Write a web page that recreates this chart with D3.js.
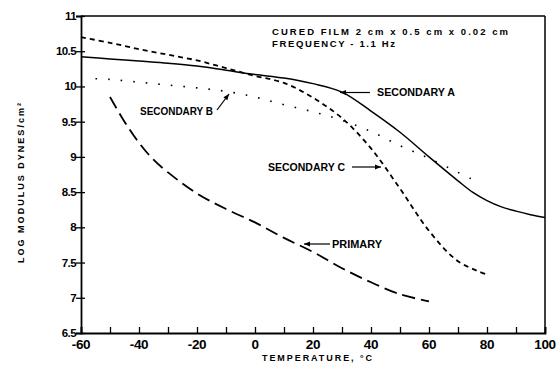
<!DOCTYPE html>
<html><head><meta charset="utf-8">
<script src="https://cdn.jsdelivr.net/npm/d3@7"></script>
<style>body{margin:0;background:#fff}svg{display:block}text{font-family:"Liberation Sans",Arial,sans-serif;fill:#000}</style>
</head><body><svg id="c" width="560" height="372"></svg>
<script>
const xTicks = [-60,-40,-20,0,20,40,60,80,100];
const xMinor = [-50,-30,-10,10,30,50,70,90];
const yTicks = [6.5,7,7.5,8,8.5,9,9.5,10,10.5,11];
const yTickLabels = ["6.5","7","7.5","8","8.5","9","9.5","10","10.5","11"];

const secAT = [-60,-50,-40,-30,-20,-10,0,10,20,30,40,50,60,70,75,80,85,90,95,100];
const secAV = [10.42,10.39,10.36,10.33,10.29,10.23,10.17,10.12,10.04,9.92,9.65,9.35,9.0,8.66,8.50,8.38,8.29,8.23,8.18,8.14];

const secCT = [-60,-50,-40,-30,-20,-10,0,10,20,30,40,50,60,70,80];
const secCV = [10.70,10.62,10.53,10.45,10.37,10.26,10.15,10.05,9.84,9.55,9.12,8.55,7.95,7.52,7.33];

const secBT = [-55,-50,-40,-30,-20,-10,0,10,20,30,40,50,60,70,75];
const secBV = [10.11,10.10,10.06,10.02,9.98,9.93,9.85,9.74,9.64,9.52,9.36,9.16,8.98,8.78,8.68];

const primT = [-50,-45,-40,-35,-30,-20,-10,0,10,20,30,40,50,60];
const primV = [9.85,9.50,9.20,8.96,8.78,8.48,8.26,8.07,7.85,7.65,7.42,7.22,7.05,6.95];

const svg = d3.select("#c");
const x = d3.scaleLinear().domain([-60,100]).range([81,545]);
const y = d3.scaleLinear().domain([6.5,11]).range([333,16]);

const line = d3.line().x(d=>x(d[0])).y(d=>y(d[1])).curve(d3.curveCatmullRom.alpha(0.5));
function draw(T,V,dash,w){
  svg.append("path").datum(T.map((t,i)=>[t,V[i]])).attr("d",line)
    .attr("fill","none").attr("stroke","#000").attr("stroke-width",w)
    .attr("stroke-dasharray",dash).attr("stroke-linecap","butt");
}
draw(secAT,secAV,null,1.5);
draw(secCT,secCV,"5,4",1.8);
draw(secBT,secBV,"1.6,11",1.6);
draw(primT,primV,"13,6",1.8);

// axes
const xAxis = d3.axisBottom(x).tickValues(xTicks.concat(xMinor)).tickSize(-6).tickFormat("");
const gx = svg.append("g").attr("transform",`translate(0,${y(6.5)})`).call(xAxis);
gx.select(".domain").attr("stroke-width",1.8);
gx.selectAll(".tick line").attr("stroke-width",1.3);
svg.append("g").selectAll("text").data(xTicks).join("text")
  .attr("x",d=>x(d)).attr("y",349).attr("text-anchor","middle")
  .attr("font-size",13.5).attr("font-weight","bold").attr("letter-spacing","-0.3")
  .text(d=>d);

const yAxis = d3.axisLeft(y).tickValues(yTicks).tickSize(5).tickFormat("");
const gy = svg.append("g").attr("transform",`translate(${x(-60)},0)`).call(yAxis);
gy.select(".domain").attr("stroke-width",1.8);
gy.selectAll(".tick line").attr("stroke-width",1.3).attr("x2",-5).attr("x1",4);
svg.append("g").selectAll("text").data(yTicks).join("text")
  .attr("x",76).attr("y",d=>y(d)+4).attr("text-anchor","end")
  .attr("font-size",11.5).attr("font-weight","bold").attr("letter-spacing","-0.6")
  .text((d,i)=>yTickLabels[i]);

// top and right frame
svg.append("line").attr("x1",x(-60)).attr("x2",x(100)).attr("y1",y(11)).attr("y2",y(11)).attr("stroke","#000").attr("stroke-width",1.5);
svg.append("line").attr("x1",x(100)).attr("x2",x(100)).attr("y1",y(11)).attr("y2",y(6.5)).attr("stroke","#000").attr("stroke-width",1.5);

// axis titles
svg.append("text").attr("x",262).attr("y",361)
  .attr("font-size",9).attr("font-weight","bold").attr("textLength",110).attr("lengthAdjust","spacing")
  .text("TEMPERATURE, °C");
svg.append("text").attr("transform","translate(24,263) rotate(-90)")
  .attr("font-size",9).attr("font-weight","bold").attr("textLength",160).attr("lengthAdjust","spacing")
  .text("LOG MODULUS  DYNES/cm²");

// annotation texts
const ann = svg.append("g").attr("font-size",9.5).attr("font-weight","bold");
ann.append("text").attr("x",272).attr("y",35).attr("textLength",236).attr("lengthAdjust","spacing")
  .text("CURED FILM 2 cm x 0.5 cm x 0.02 cm");
ann.append("text").attr("x",272).attr("y",47).attr("textLength",123).attr("lengthAdjust","spacing")
  .text("FREQUENCY - 1.1 Hz");
const lab = svg.append("g").attr("font-size",10).attr("font-weight","bold");
lab.append("text").attr("x",377).attr("y",96).attr("textLength",78).attr("lengthAdjust","spacingAndGlyphs").text("SECONDARY A");
lab.append("text").attr("x",140).attr("y",115).attr("textLength",73).attr("lengthAdjust","spacingAndGlyphs").text("SECONDARY B");
lab.append("text").attr("x",268).attr("y",171).attr("textLength",77).attr("lengthAdjust","spacingAndGlyphs").text("SECONDARY C");
lab.append("text").attr("x",332).attr("y",248).attr("textLength",50).attr("lengthAdjust","spacingAndGlyphs").text("PRIMARY");

// arrows
function arrow(x1,y1,x2,y2){
  svg.append("line").attr("x1",x1).attr("y1",y1).attr("x2",x2).attr("y2",y2).attr("stroke","#000").attr("stroke-width",1.2);
  const a = Math.atan2(y2-y1,x2-x1), L=6, W=2.5;
  const p = [[x2,y2],[x2-L*Math.cos(a)+W*Math.sin(a), y2-L*Math.sin(a)-W*Math.cos(a)],[x2-L*Math.cos(a)-W*Math.sin(a), y2-L*Math.sin(a)+W*Math.cos(a)]];
  svg.append("path").attr("d","M"+p.join("L")+"Z").attr("fill","#000");
}
arrow(370,92.5,340,92.5);
arrow(217,110,229,94);
arrow(352,167,381,167);
arrow(330,244,304,244);
</script></body></html>
